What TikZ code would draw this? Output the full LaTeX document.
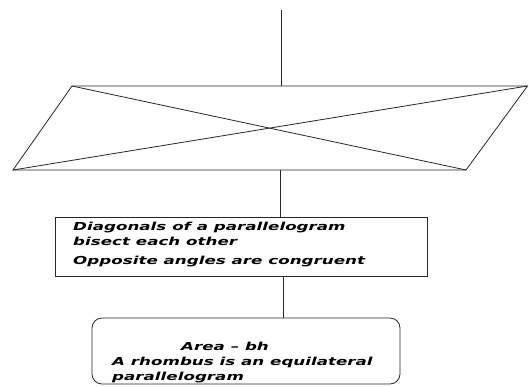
\documentclass[tikz,border=0pt]{standalone}
\usepackage{fontspec}
\setmainfont{DejaVu Sans}
\usepackage{graphicx}
\usetikzlibrary{positioning}

\newcommand{\wideline}[1]{\scalebox{1.52}[1]{#1}}

\tikzset{
  flowline/.style={line width=0.8pt, black!85},
  flowbox/.style={draw=black!85, line width=0.8pt, inner sep=0pt},
  flowtext/.style={inner sep=0pt, align=left, anchor=north west,
    font=\fontsize{11}{15}\selectfont\bfseries\itshape},
}

\begin{document}
\begin{tikzpicture}[x=1pt,y=1pt,yscale=-1]
\useasboundingbox (0,0) rectangle (529,386);

%Shape: Parallelogram
\coordinate (ptl) at (72,86);
\coordinate (ptr) at (527.5,86);
\coordinate (pbr) at (466,170);
\coordinate (pbl) at (13,170);
\draw[flowline] (ptl) -- (ptr) -- (pbr) -- (pbl) -- cycle;
%Straight Lines: diagonals
\draw[flowline] (ptl) -- (pbr);
\draw[flowline] (pbl) -- (ptr);

%Shape: Rectangle
\node[flowbox, minimum width=372pt, minimum height=59pt] (facts) at (241,246.5) {};
%Shape: Rounded Rectangle
\node[flowbox, rounded corners=10pt, minimum width=308pt, minimum height=66pt] (area) at (246,351) {};

%Straight Lines
\coordinate (start) at (281,10);
\coordinate (pbot) at (280,170);
\draw[flowline] (start) -- (start |- ptl);
\draw[flowline] (pbot) -- (pbot |- facts.north);
\draw[flowline] ([xshift=42pt]facts.south) -- ([xshift=37pt]area.north);

% Text Node
\node[flowtext] (factstext) at (73,222) {\wideline{Diagonals of a parallelogram}\\
  \wideline{bisect each other}\\[4pt]
  \wideline{Opposite angles are congruent}};
% Text Node
\node[flowtext] (areatext) at (112,342) {\hspace*{69pt}\wideline{Area -- bh}\\
  \wideline{A rhombus is an equilateral}\\
  \wideline{parallelogram}};

\end{tikzpicture}
\end{document}
